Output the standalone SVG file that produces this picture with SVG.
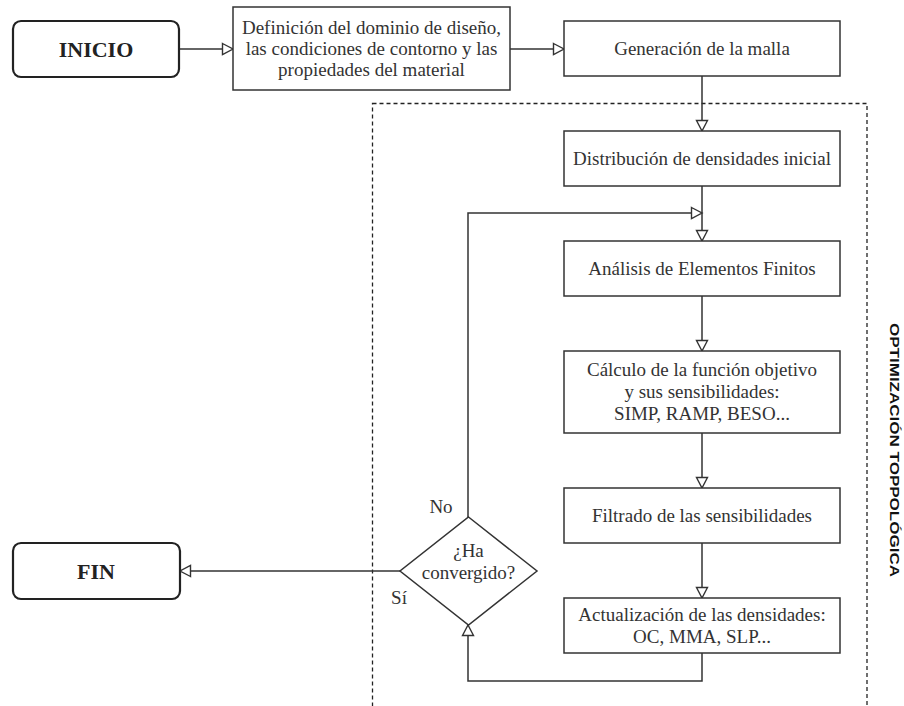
<svg xmlns="http://www.w3.org/2000/svg" width="904" height="706" viewBox="0 0 904 706">
<style>
  .box{fill:#fff;stroke:#333;stroke-width:1.5}
  .term{fill:#fff;stroke:#222;stroke-width:2.2}
  .t{font-family:"Liberation Serif","Times New Roman",serif;font-size:19px;fill:#333;text-anchor:middle}
  .tb{font-family:"Liberation Serif","Times New Roman",serif;font-size:22px;font-weight:bold;fill:#222;text-anchor:middle}
  .c{fill:none;stroke:#333;stroke-width:1.5}
  .dash{fill:none;stroke:#222;stroke-width:1.3;stroke-dasharray:4 3}
  .v{font-family:"Liberation Sans",Arial,sans-serif;font-size:12.5px;font-weight:bold;fill:#111;text-anchor:middle}
</style>
<defs>
  <marker id="arr" markerUnits="userSpaceOnUse" markerWidth="14" markerHeight="14" viewBox="0 0 14 14" refX="12" refY="7" orient="auto">
    <path d="M1.5,1.5 L12,7 L1.5,12.5 Z" fill="#fff" stroke="#333" stroke-width="1.4"/>
  </marker>
</defs>
<rect width="904" height="706" fill="#fff"/>

<g id="topopt-frame">
  <rect class="dash" x="372.5" y="103.5" width="494.5" height="640"/>
  <text class="v" transform="translate(890,450) rotate(90)" textLength="254" lengthAdjust="spacingAndGlyphs">OPTIMIZACIÓN TOPPOLÓGICA</text>
</g>

<g id="connectors">
  <path class="c" d="M179,49 H233" marker-end="url(#arr)"/>
  <path class="c" d="M510,49 H564" marker-end="url(#arr)"/>
  <path class="c" d="M702,76 V131" marker-end="url(#arr)"/>
  <path class="c" d="M702,186 V241" marker-end="url(#arr)"/>
  <path class="c" d="M468,517 V213 H702" marker-end="url(#arr)"/>
  <path class="c" d="M702,296 V351" marker-end="url(#arr)"/>
  <path class="c" d="M702,433 V488" marker-end="url(#arr)"/>
  <path class="c" d="M702,543 V598" marker-end="url(#arr)"/>
  <path class="c" d="M702,653 V681 H468 V625" marker-end="url(#arr)"/>
  <path class="c" d="M400,571 H180" marker-end="url(#arr)"/>
  <text class="t" x="441" y="513">No</text>
  <text class="t" x="399" y="604">Sí</text>
</g>

<g id="inicio">
  <rect class="term" x="13" y="21" width="166" height="56" rx="8"/>
  <text class="tb" x="96" y="57">INICIO</text>
</g>

<g id="definicion">
  <rect class="box" x="233" y="7" width="277" height="83"/>
  <text class="t" x="371.5" y="34">Definición del dominio de diseño,</text>
  <text class="t" x="371.5" y="55">las condiciones de contorno y las</text>
  <text class="t" x="371.5" y="76">propiedades del material</text>
</g>

<g id="malla">
  <rect class="box" x="564" y="21" width="276" height="55"/>
  <text class="t" x="702" y="55">Generación de la malla</text>
</g>

<g id="distribucion">
  <rect class="box" x="564" y="131" width="276" height="55"/>
  <text class="t" x="702" y="165">Distribución de densidades inicial</text>
</g>

<g id="analisis">
  <rect class="box" x="564" y="241" width="276" height="55"/>
  <text class="t" x="702" y="275">Análisis de Elementos Finitos</text>
</g>

<g id="calculo">
  <rect class="box" x="564" y="351" width="276" height="82"/>
  <text class="t" x="702" y="376">Cálculo de la función objetivo</text>
  <text class="t" x="702" y="398">y sus sensibilidades:</text>
  <text class="t" x="702" y="420">SIMP, RAMP, BESO...</text>
</g>

<g id="filtrado">
  <rect class="box" x="564" y="488" width="276" height="55"/>
  <text class="t" x="702" y="522">Filtrado de las sensibilidades</text>
</g>

<g id="actualizacion">
  <rect class="box" x="564" y="598" width="276" height="55"/>
  <text class="t" x="702" y="621">Actualización de las densidades:</text>
  <text class="t" x="702" y="643">OC, MMA, SLP...</text>
</g>

<g id="convergido">
  <path class="box" d="M468.5,517 L537,571 L468.5,625 L400,571 Z"/>
  <text class="t" x="468.5" y="557">¿Ha</text>
  <text class="t" x="468.5" y="579">convergido?</text>
</g>

<g id="fin">
  <rect class="term" x="13" y="543" width="167" height="56" rx="8"/>
  <text class="tb" x="96" y="579">FIN</text>
</g>
</svg>
